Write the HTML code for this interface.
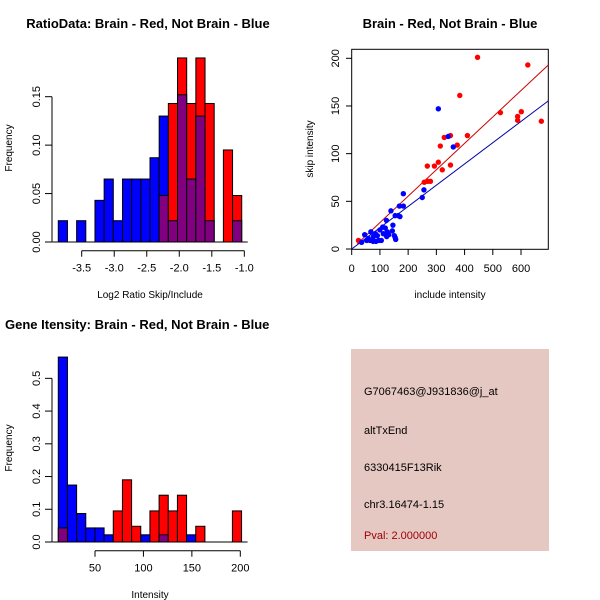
<!DOCTYPE html>
<html><head><meta charset="utf-8"><style>
html,body{margin:0;padding:0;background:#fff}
svg{display:block;font-family:"Liberation Sans",sans-serif}
</style></head><body>
<svg id="s" width="600" height="600" viewBox="0 0 600 600" xmlns="http://www.w3.org/2000/svg">
<g>
<text x="148" y="28" text-anchor="middle" font-size="13" font-weight="bold">RatioData: Brain - Red, Not Brain - Blue</text>
<text transform="translate(12,148) rotate(-90)" text-anchor="middle" font-size="10">Frequency</text>
<text x="150" y="298" text-anchor="middle" font-size="10">Log2 Ratio Skip/Include</text>
<g id="h1"></g>
</g>
<g>
<text x="450" y="28" text-anchor="middle" font-size="13" font-weight="bold">Brain - Red, Not Brain - Blue</text>
<text transform="translate(313,149) rotate(-90)" text-anchor="middle" font-size="10">skip intensity</text>
<text x="450" y="298" text-anchor="middle" font-size="10">include intensity</text>
<rect x="351.7" y="49.3" width="196.6" height="200" fill="none" stroke="#000"/>
<g id="sc"></g>
</g>
<g>
<text x="5" y="329" font-size="13" font-weight="bold">Gene Itensity: Brain - Red, Not Brain - Blue</text>
<text transform="translate(12,448) rotate(-90)" text-anchor="middle" font-size="10">Frequency</text>
<text x="150" y="598" text-anchor="middle" font-size="10">Intensity</text>
<g id="h2"></g>
</g>
<g>
<rect x="351" y="349" width="198" height="202" fill="#e6c8c3"/>
<text x="364" y="395" font-size="11">G7067463@J931836@j_at</text>
<text x="364" y="434" font-size="11">altTxEnd</text>
<text x="364" y="471" font-size="11">6330415F13Rik</text>
<text x="364" y="508" font-size="11">chr3.16474-1.15</text>
<text x="364" y="539" font-size="11" fill="#a00000">Pval: 2.000000</text>
</g>
</svg>
<script>
// Ratio histogram data
const ratioStart = -3.86, ratioBinWidth = 0.141;
const ratioBlue = [0.022,0,0.022,0,0.043,0.065,0.022,0.065,0.065,0.065,0.087,0.13,0.022,0.152,0.065,0.13,0.022,0,0,0.022];
const ratioRed  = [0,0,0,0,0,0,0,0,0,0,0,0.048,0.143,0.19,0.143,0.19,0.143,0,0.095,0.048];
const ratioXTicks = [-3.5,-3.0,-2.5,-2.0,-1.5,-1.0];
const ratioYTicks = [0,0.05,0.10,0.15];
// Intensity histogram data
const intStart = 12.1, intBinWidth = 9.46;
const intBlue = [0.565,0.174,0.087,0.043,0.043,0.022,0,0,0,0.022,0,0.022,0,0,0.022,0,0,0,0,0];
const intRed  = [0.043,0,0,0,0,0,0.095,0.19,0.048,0,0.095,0.143,0.095,0.143,0,0.048,0,0,0,0.095];
const intXTicks = [50,100,150,200];
const intYTicks = [0,0.1,0.2,0.3,0.4,0.5];
// Scatter data
const redX = [24,446,624,383,527,601,588,588,672,350,410,328,374,314,307,268,293,350,321,269,279,257];
const redY = [9,201,193,161,143,144,139,135,134,119,119,117,109,108,91,87,87,88,83,71,71,70];
const blueX = [307,342,360,256,250,183,183,169,139,123,165,154,171,146,144,154,151,156,124,35,46,59,68,77,86,91,100,105,112,119,126,96,65,84,110,131,76,53];
const blueY = [147,118,107,62,54,58,45,45,40,30,35,35,34,25,19,12,14,10,13,7,15,11,18,13,8,14,20,9,16,22,18,9,9,16,23,15,8,9];
const redSlope = 0.277, blueSlope = 0.223;
const scXTicks = [0,100,200,300,400,500,600];
const scYTicks = [0,50,100,150,200];

const NS="http://www.w3.org/2000/svg";
function mk(parent,tag,attrs){const e=document.createElementNS(NS,tag);for(const k in attrs)e.setAttribute(k,attrs[k]);parent.appendChild(e);return e;}
function fmt(v,d){return v.toFixed(d);}

function hist(g,start,bw,blue,red,xs,ys,xt,yt,prefix,xdec,ydec,xAxisY){
  for(let i=0;i<blue.length;i++){
    const b=blue[i],r=red[i],x0=xs(start+i*bw),x1=xs(start+(i+1)*bw);
    const top=Math.max(b,r); if(top<=0)continue;
    const col = r>b? "#ff0000":"#0000ff";
    let e=mk(g,'rect',{x:x0,y:ys(top),width:x1-x0,height:ys(0)-ys(top),fill:col,stroke:"#000","stroke-width":1});
    
    
    const lo=Math.min(b,r);
    if(lo>0){
      e=mk(g,'rect',{x:x0,y:ys(lo),width:x1-x0,height:ys(0)-ys(lo),fill:"#800080",stroke:"#000","stroke-width":1});
      
      
    }
  }
  let ax=mk(g,'line',{x1:52,x2:52,y1:ys(yt[0]),y2:ys(yt[yt.length-1]),stroke:"#000"});
  
  
  yt.forEach(v=>{
    mk(g,'line',{x1:45,x2:52,y1:ys(v),y2:ys(v),stroke:"#000"});
    const t=mk(g,'text',{transform:`translate(40,${ys(v)}) rotate(-90)`,"text-anchor":"middle","font-size":11});
    t.textContent=fmt(v,ydec);
    
    
  });
  ax=mk(g,'line',{x1:xs(xt[0]),x2:xs(xt[xt.length-1]),y1:xAxisY,y2:xAxisY,stroke:"#000"});
  
  
  xt.forEach(v=>{
    mk(g,'line',{x1:xs(v),x2:xs(v),y1:xAxisY,y2:xAxisY+6,stroke:"#000"});
    const t=mk(g,'text',{x:xs(v),y:xAxisY+21,"text-anchor":"middle","font-size":11});
    t.textContent=fmt(v,xdec);
    
    
  });
  mk(g,'line',{x1:xs(start)-6,x2:xs(start+blue.length*bw)+6,y1:ys(0),y2:ys(0),stroke:"#000"});
}

hist(document.getElementById('h1'),ratioStart,ratioBinWidth,ratioBlue,ratioRed,
  v=>81.7+(v+3.5)*65.05, v=>242-v*968.7, ratioXTicks, ratioYTicks,'ratio',1,2,250.7);
hist(document.getElementById('h2'),intStart,intBinWidth,intBlue,intRed,
  v=>95+(v-50)*0.9687, v=>542-v*327.3, intXTicks, intYTicks,'intensity',0,1,550.7);

(function(){
  const g=document.getElementById('sc');
  const xs=v=>351.7+v*0.2822, ys=v=>249-v*0.9535;
  const xmax=696.7;
  let l=mk(g,'line',{x1:xs(20),y1:ys(20*redSlope),x2:xs(xmax),y2:ys(xmax*redSlope),stroke:"#cc0000"});
  
  
  l=mk(g,'line',{x1:xs(0),y1:ys(0),x2:xs(xmax),y2:ys(xmax*blueSlope),stroke:"#0000aa"});
  
  
  redX.forEach((x,i)=>{
    const c=mk(g,'circle',{cx:xs(x),cy:ys(redY[i]),r:2.7,fill:"#ff0000"});
    
    
  });
  blueX.forEach((x,i)=>{
    const c=mk(g,'circle',{cx:xs(x),cy:ys(blueY[i]),r:2.7,fill:"#0000ff"});
    
    
  });
  scXTicks.forEach(v=>{
    mk(g,'line',{x1:xs(v),x2:xs(v),y1:249.3,y2:255,stroke:"#000"});
    const t=mk(g,'text',{x:xs(v),y:272,"text-anchor":"middle","font-size":11});
    t.textContent=v;
    
    
  });
  scYTicks.forEach(v=>{
    mk(g,'line',{x1:346,x2:351.7,y1:ys(v),y2:ys(v),stroke:"#000"});
    const t=mk(g,'text',{transform:`translate(339,${ys(v)}) rotate(-90)`,"text-anchor":"middle","font-size":11});
    t.textContent=v;
    
    
  });
})();
</script>
</body></html>
